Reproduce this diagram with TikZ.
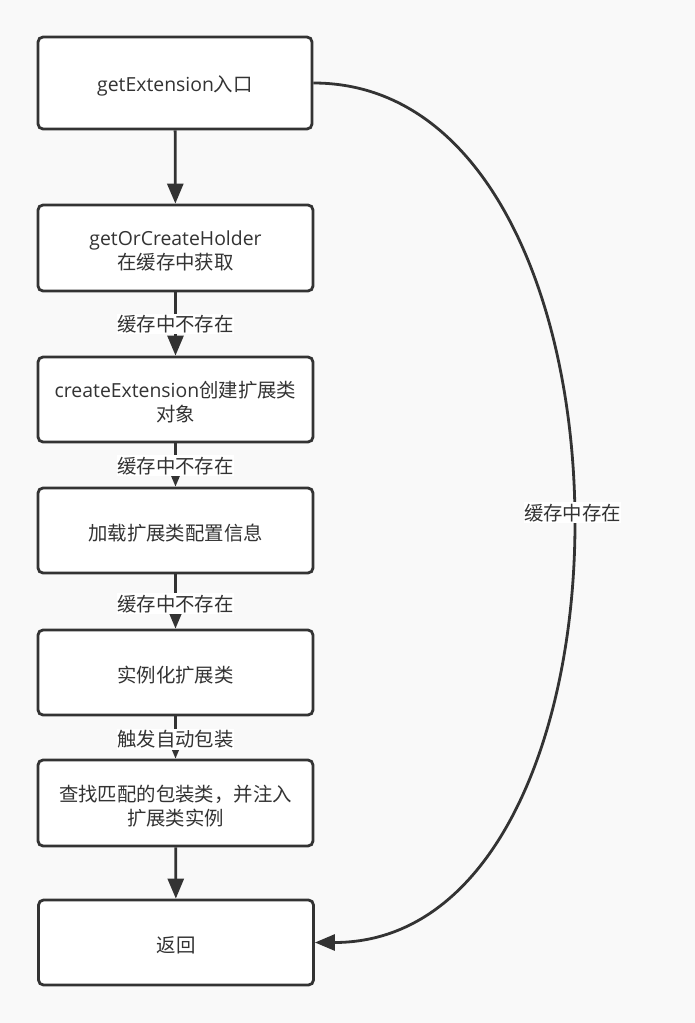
\documentclass[tikz,border=0pt]{standalone}
\usepackage{fontspec}
\setmainfont{Noto Sans CJK SC}
\newfontfamily\latfont{Open Sans}
\newcommand\latn[1]{{\latfont #1}}
\usetikzlibrary{arrows.meta}
\definecolor{ink}{HTML}{333333}
\definecolor{bgc}{HTML}{F9F9F9}
\tikzset{
  box/.style={rectangle, rounded corners=5pt, draw=ink, fill=white, line width=2.8pt,
    minimum width=275pt, minimum height=86pt, inner sep=0pt},
  boxtxt/.style={align=center, text=ink, yshift=-3pt, inner sep=0pt,
    font=\fontsize{19.4}{24}\selectfont},
  arr/.style={draw=ink, line width=2.8pt, -{Triangle[length=20pt,width=16pt]}},
  lbl/.style={fill=white, text=ink, inner xsep=0pt, inner ysep=1.5pt,
    font=\fontsize{19.4}{24}\selectfont}
}
\begin{document}
\begin{tikzpicture}[x=1pt,y=-1pt]
\fill[bgc] (0,0) rectangle (695,1023);
\useasboundingbox (0,0) rectangle (695,1023);

\node[box, minimum height=92pt, minimum width=274pt,
  label={[boxtxt]center:{\latn{getExtension}入口}}] (b1) at (175,83) {};
\node[box, label={[boxtxt]center:{\latn{getOrCreateHolder}\\在缓存中获取}}] (b2) at (175.5,248) {};
\node[box, minimum height=85pt,
  label={[boxtxt]center:{\latn{createExtension}创建扩展类\\对象}}] (b3) at (175.5,399.5) {};
\node[box, minimum height=85pt, label={[boxtxt]center:{加载扩展类配置信息}}] (b4) at (175.5,530.5) {};
\node[box, minimum height=85pt, label={[boxtxt]center:{实例化扩展类}}] (b5) at (175.5,672.5) {};
\node[box, label={[boxtxt]center:{查找匹配的包装类，并注入\\扩展类实例}}] (b6) at (175.5,803) {};
\node[box, minimum height=85pt, label={[boxtxt]center:{返回}}] (b7) at (176,942.5) {};

\draw[arr] (b1) -- (b2);
\draw[arr] (b2) -- node[lbl, pos=0.5] {缓存中不存在} (b3);
\draw[arr] (b3) -- node[lbl, pos=0.52] {缓存中不存在} (b4);
\draw[arr] (b4) -- node[lbl, pos=0.54] {缓存中不存在} (b5);
\draw[arr] (b5) -- node[lbl, pos=0.55] {触发自动包装} (b6);
\draw[arr] (b6) -- (b7);
\draw[arr] (b1.east) .. controls +(345,0) and +(344,0) .. node[lbl, pos=0.5] {缓存中存在} (b7.east);
\end{tikzpicture}
\end{document}
